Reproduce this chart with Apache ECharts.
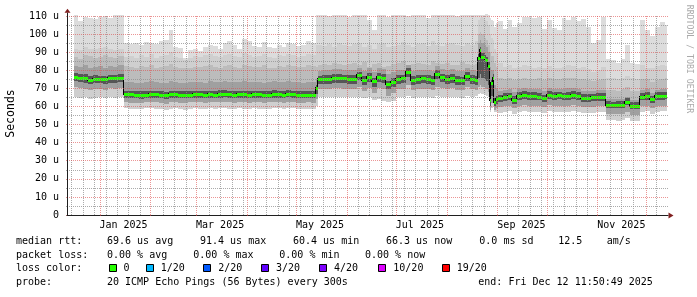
<!DOCTYPE html>
<html><head><meta charset="utf-8">
<script src="https://cdn.jsdelivr.net/npm/echarts@6/dist/echarts.min.js"></script>
<style>html,body{margin:0;padding:0;background:#fff}#c{width:697px;height:297px}</style>
</head><body><div id="c"></div>
<script>
// ---- DATA (days since 2024-12-12, values in microseconds) ----
const days = [4,7,10,13,16,19,22,25,28,31,
 35,38,41,44,47,50,53,56,59,62,65,68,71,74,77,80,83,86,89,92,95,98,101,104,107,110,113,116,119,122,125,128,131,134,137,140,143,146,149,
 152,153,156,159,162,165,168,171,174,177,180,183,186,189,192,195,198,201,204,207,210,213,216,219,222,225,228,231,234,237,240,243,246,249,
 251,252,253,254,255,256,257,258,259,260,261,262,
 263,266,269,272,275,278,281,284,287,290,293,296,299,302,305,308,311,314,317,320,323,326,
 329,332,335,338,341,344,347,
 350,353,356,359,362,365,
 366.5];
const medianRtt = [76.3,76.0,75.8,74.6,75.3,75.1,74.9,75.6,75.5,76.0,
 66.8,66.7,66.5,66.3,66.6,66.8,66.7,66.6,66.2,66.7,66.8,66.5,66.4,66.6,66.7,66.7,66.5,66.8,66.6,66.9,67.0,66.7,66.6,66.8,66.7,66.6,66.8,66.7,66.5,66.6,66.9,66.8,66.6,67.1,66.7,66.6,66.5,66.6,66.5,
 70.0,75.0,75.2,75.3,75.9,75.8,75.6,75.2,75.3,77.2,74.7,76.5,73.8,76.3,75.9,72.2,73.6,75.4,75.5,79.0,74.7,75.2,75.5,75.4,74.8,78.2,76.2,75.3,75.8,74.6,74.5,76.8,75.2,74.6,
 87.0,91.0,87.5,87.5,86.5,85.5,82.5,63.5,72.8,76.0,62.6,64.0,
 64.6,65.3,65.6,63.8,65.8,66.3,65.8,65.9,65.5,64.4,66.5,65.9,66.2,65.6,66.0,66.5,65.8,64.8,64.7,65.0,65.3,65.4,
 60.8,60.7,60.9,60.8,62.4,60.2,60.2,
 65.3,65.9,63.9,65.8,65.9,66.0,
 66.0];
const pingMax = [110.5,107,109.5,109,108.5,109.5,110,109,110.5,110.5,
 95,94.5,95,94,95.5,95,94.5,96,97,102.5,93,92.5,87,91,91.5,90.5,93,94,93.5,92,95,96,94,92,97.5,96,93.5,93,95.5,93,92.5,94,93,95,94.5,93.5,94,96,95,
 110.5,110.5,110.5,110,110.5,110.5,110.5,109.5,110.5,110.5,110.5,108,102,110.5,110.5,109.5,110.5,110.5,110.5,110,110.5,110.5,110.5,109,110.5,110.5,110.5,110.5,110.5,110,110.5,110.5,110.5,110.5,
 110.5,110.5,110.5,110.5,111,111,110.5,109,108,107,104,106,
 107,103,108,104,106,109.5,109.5,109,109.5,103,108,103.5,102.5,109,108,109.5,107,108.5,104,95,97,109.5,
 86,85.5,84,86.5,94,84,83.5,
 108,102,99,104,106.5,105,
 105];
const pingHi2 = [92,91,93,92,91.5,92.5,93,92,91,92,
 87.5,88,87,88.5,87.5,89,87,88,88.5,90,87.5,87,85.5,87,88,87.5,88.5,89,88,87.5,88.5,89,88,87.5,89.5,88.5,87.5,88,89,87.5,87,88.5,88,89,88.5,87.5,88,89,88.5,
 94,94,93.5,94.5,93,95,94,93.5,94.5,95,93,94,92,94.5,95,93,93.5,94,95.5,94,93,94.5,95,93.5,96,94,93.5,94.5,95,94,93.5,95,94,96,
 108,109,109.5,109,108,107,105,100,98,97,92,90,
 84,82,83,81.5,82,83,82.5,81,82,81,82.5,81.5,81,82,83,82.5,81.5,82,80.5,79,80,82,
 76,75.5,75,76,77,75.5,75,
 83,81.5,81,82.5,83,82.5,
 82.5];
const pingHi1 = [87.5,86.5,88.5,88,87,87.5,88.5,87.5,87,88,
 82.5,82,81.5,82.5,82,83,81.5,82,82.5,83.5,82,81.5,81,81.5,82,82,82.5,83,82,81.5,82.5,83,82,81.5,83,82.5,82,82,83,81.5,81.5,82.5,82,83,82.5,82,82,83,82.5,
 82,83,83.5,83,84,83.5,83,83.5,84,83,84.5,82,83.5,84,82,82.5,83.5,84,85,83,83.5,84,83.5,83,85,84,83.5,84,83,83,84.5,83.5,83,83.5,
 100,101,100,99.5,98,97,94,90,88,88,84,82,
 76,75,75.5,74.5,75,75.5,75,75,75.5,74.5,75.5,75,75,75.5,76,75.5,75,75,74.5,74,74.5,75,
 69,69,68.5,69.5,70.5,68.5,68.5,
 75,75,73.5,74.5,75,75.5,
 75.5];
const pingHi0 = [82.5,82,83,81.5,82,82.5,81.5,82.5,82,83,
 73.5,73.5,73,73,73.5,74,73.5,73,73,74,73.5,73,73,73.5,73.5,73.5,73,74,73.5,73.5,74,73.5,73.5,73.5,74,73.5,73.5,73.5,73,73.5,74,73.5,73.5,74,73.5,73.5,73,73.5,73.5,
 75,79.5,80,80,80.5,80.5,80,80,80,81.5,79.5,81,79,81,80.5,78,79,80,80,83,79.5,80,80,80,79.5,82.5,80.5,80,80.5,79.5,79.5,81,80,79.5,
 95,97,95,95,94,93,90,82,80,80,72,70,
 68.5,69,69.5,68,69.5,70,69.5,69.5,69.5,68.5,70,69.5,69.5,69.5,70,70,69.5,68.5,68.5,68.5,69,69,
 64,64,64,64,65.5,63.5,63.5,
 69,69.5,67.5,69,69.5,69.5,
 69.5];
const pingLo0 = [73.8,73.5,73.2,72.4,73,72.8,72.6,73.2,73.2,73.6,
 64.8,64.7,64.5,64.3,64.6,64.8,64.7,64.6,64.2,64.7,64.8,64.5,64.4,64.6,64.7,64.7,64.5,64.8,64.6,64.9,65,64.7,64.6,64.8,64.7,64.6,64.8,64.7,64.5,64.6,64.9,64.8,64.6,65.1,64.7,64.6,64.5,64.6,64.5,
 67,72.2,72.4,72.5,73.1,73,72.8,72.4,72.5,74.4,71.9,73.7,71,73.5,73.1,69.4,70.8,72.6,72.7,76.2,71.9,72.4,72.7,72.6,72,75.4,73.4,72.5,73,71.8,71.7,74,72.4,71.8,
 76,78,76,76,75,74,72,60,66,68,60,61.5,
 62.4,63.1,63.4,61.6,63.6,64.1,63.6,63.7,63.3,62.2,64.3,63.7,64,63.4,63.8,64.3,63.6,62.6,62.5,62.8,63.1,63.2,
 59.2,59.1,59.3,59.2,60.6,58.6,58.6,
 63.3,63.8,61.9,63.7,63.8,64,
 64];
const pingLo1 = [70.5,70,69.5,69,69.5,69.5,69,70,69.5,70,
 62.5,62,62,61.8,62.2,62.5,62.3,62,61.5,62.2,62.4,62,61.8,62.2,62.3,62.2,62,62.5,62.2,62.5,62.6,62.2,62,62.4,62.2,62,62.4,62.3,62,62.2,62.5,62.4,62.1,62.7,62.3,62.1,62,62.2,62,
 64,69.5,69.5,69.5,70,70,69.5,69.5,69.5,70.5,68.5,70,67.5,70,69.5,66,67.5,69.5,69.5,72,69,69.5,69.5,69.5,69,71,70,69.5,70,69,69,70.5,69.5,69,
 71,72,71,71,70,69.5,68,58,62,63,58,59,
 59.5,60,60.5,59,60.5,61,60.5,60.5,60,59.5,61,60.5,60.5,60,60.5,61,60.5,59.5,59.5,59.5,60,60,
 56,56,56,56,57,55.5,55.5,
 60,60.5,59,60.5,60.5,60.5,
 60.5];
const pingMin = [65,64.5,65.5,64,64.5,65,64.5,65,64.8,65.5,
 59,58.5,58.8,58.5,59,59.2,58.8,58.5,58,58.8,59,58.5,58.2,58.8,59,58.8,58.5,59.2,58.8,59,59.3,58.8,58.5,59,58.8,58.5,59,58.8,58.5,58.8,59.2,59,58.6,59.4,59,58.8,58.5,58.8,58.6,
 60,65,65.2,65,65.5,65.4,65,65,65.2,65.5,64.5,65,63.5,64,62.8,62.5,63,65,65.2,66,64.8,65,65.2,65,64.8,65.8,65.4,65,65.5,65,64.8,65.8,65.5,65.8,
 67,67.5,67,67,66.5,66,65,57,59,60,57,57,
 56.5,57,57.5,56,57,57.5,57,57,56.8,56.5,57.5,57,57,56.8,57.2,57.5,57,56.5,56.2,56.5,56.8,57,
 52.5,52.3,52,52.5,53.5,52,52,
 57,57.5,56,57,57.5,57.5,
 57.5];

const monthStartDays = [20,51,79,110,140,171,201,232,263,293,324,354];
const weekDays = [2.7,9.7,16.7,23.7,30.7,37.7,44.7,58.7,65.7,72.7,86.7,93.7,100.7,107.7,114.7,121.7,128.7,135.7,142.7,149.7,156.7,163.7,177.7,184.7,191.7,198.7,205.7,212.7,219.7,226.7,240.7,247.7,254.7,268.7,275.7,282.7,289.7,296.7,303.7,310.7,317.7,331.7,338.7,345.7,359.7];
const monthLabelDays = [34.5,93.5,154.5,215.5,277.5,338.5];
const monthLabels = ['Jan 2025','Mar 2025','May 2025','Jul 2025','Sep 2025','Nov 2025'];
const yTicks = [0,10,20,30,40,50,60,70,80,90,100,110];
const yTickLabels = ['0','10 u','20 u','30 u','40 u','50 u','60 u','70 u','80 u','90 u','100 u','110 u'];
const axisTitle = 'Seconds';
const watermark = 'RRDTOOL / TOBI OETIKER';
const rowTitles = ['median rtt:','packet loss:','loss color:','probe:'];
const medianStats = ['69.6 us avg','91.4 us max','60.4 us min','66.3 us now','0.0 ms sd','12.5','am/s'];
const lossStats = ['0.00 % avg','0.00 % max','0.00 % min','0.00 % now'];
const lossLabels = ['0','1/20','2/20','3/20','4/20','10/20','19/20'];
const lossColors = ['#26ff00','#00b8ff','#0059ff','#5e00ff','#7e00ff','#dd00ff','#ff0000'];
const probeText = '20 ICMP Echo Pings (56 Bytes) every 300s';
const endText = 'end: Fri Dec 12 11:50:49 2025';

[medianRtt,pingMax,pingHi2,pingHi1,pingHi0,pingLo0,pingLo1,pingMin].forEach((a,i)=>{
  if (a.length !== days.length) throw new Error('length mismatch ' + i + ': ' + a.length + ' vs ' + days.length);
});

// ---- LAYOUT / STYLE ----
const FONT = '"DejaVu Sans Mono", monospace';
const MGRID = 'rgba(222,79,79,0.6)';
const GRID = 'rgba(143,143,143,0.75)';
const DASH = [1,1];
const AXIS = '#1f1f1f';
const ARROW = '#801f1f';

const chart = echarts.init(document.getElementById('c'), null, {renderer:'canvas', width:697, height:297});

// each sample covers [days[i], days[i+1]) like rrdtool's step columns
function bandData(lo, hi){
  const out = [];
  for (let i = 0; i < days.length - 1; i++) out.push([days[i], days[i+1], lo[i], hi[i]]);
  return out;
}
function band(id, lo, hi, color, z){
  return {
    type:'custom', id:id, silent:true, animation:false, clip:false, z:z,
    encode:{x:[0,1], y:[2,3]},
    data:bandData(lo, hi),
    renderItem:(params, api)=>{
      const a = api.coord([api.value(0), api.value(3)]);
      const b = api.coord([api.value(1), api.value(2)]);
      const x0 = Math.round(a[0]), x1 = Math.round(b[0]);
      const y0 = Math.round(a[1]), y1 = Math.round(b[1]);
      return {type:'rect', shape:{x:x0, y:y0, width:Math.max(x1-x0,0), height:Math.max(y1-y0,1)}, style:{fill:color}};
    }
  };
}
// dark core just above the median (pixel styling of the median band)
const coreUp = 2.0;
const coreHi = medianRtt.map(v=>v+coreUp);

const medianCols = [];
for (let i = 0; i < days.length - 1; i++) medianCols.push([days[i], days[i+1], medianRtt[i], medianRtt[i+1]]);

const series = [
  band('b1', pingMin, pingMax, '#dcdcdc', 2),
  band('b2', pingMin, pingHi2, '#cfcfcf', 2),
  band('b3', pingLo1, pingHi1, '#bcbcbc', 2),
  band('b4', pingLo1, pingHi0, '#a0a0a0', 2),
  band('b5', pingLo0, coreHi, '#565656', 2),
  {type:'custom', id:'median', silent:true, animation:false, clip:false, z:3,
   encode:{x:[0,1], y:[2,3]}, data:medianCols,
   renderItem:(params, api)=>{
     const a = api.coord([api.value(0), api.value(2)]);
     const b = api.coord([api.value(1), api.value(3)]);
     const x0 = Math.round(a[0]), x1 = Math.round(b[0]);
     const yc = Math.round(a[1]), yn = Math.round(b[1]);
     const children = [
       {type:'rect', shape:{x:x1-1, y:Math.min(yc,yn)-1, width:1, height:Math.abs(yn-yc)+2}, style:{fill:'#000'}},
       {type:'rect', shape:{x:x0, y:yc-1, width:Math.max(x1-x0,1), height:3}, style:{fill:lossColors[0]}}
     ];
     return {type:'group', children:children};
   }}
];

const txt = (x, y, text, extra) => ({type:'text', x:x, y:y, silent:true, style:Object.assign({text:text, font:'10px ' + FONT, fill:'#000', align:'left', verticalAlign:'middle', textAlign:'left', textVerticalAlign:'middle'}, extra||{})});

const rowY = [241.5, 255.1, 268.7, 282.3];
const graphics = [];
rowTitles.forEach((t,i)=>graphics.push(txt(16, rowY[i], t)));
[107,200,293,386,479.3,558.3,606.7].forEach((x,i)=>graphics.push(txt(x, rowY[0], medianStats[i])));
[107,193.3,279.3,365].forEach((x,i)=>graphics.push(txt(x, rowY[1], lossStats[i])));
const boxX = [108.5,145.7,203.3,261,319,378.3,441.7];
boxX.forEach((x,i)=>{
  graphics.push({type:'rect', silent:true, shape:{x:Math.round(x)+0.5, y:264.5, width:7, height:7}, style:{fill:lossColors[i], stroke:'#000', lineWidth:1}});
  graphics.push(txt(x+15, rowY[2], lossLabels[i]));
});
graphics.push(txt(107, rowY[3], probeText));
graphics.push(txt(478.3, rowY[3], endText));
graphics.push({type:'text', x:11, y:113.5, rotation:Math.PI/2, silent:true, style:{text:axisTitle, font:'11.5px ' + FONT, fill:'#000', align:'center', verticalAlign:'middle', textAlign:'center', textVerticalAlign:'middle'}});
graphics.push({type:'text', x:689, y:59, rotation:-Math.PI/2, silent:true, style:{text:watermark, font:'8.2px ' + FONT, fill:'#aaaaaa', align:'center', verticalAlign:'middle', textAlign:'center', textVerticalAlign:'middle'}});
graphics.push({type:'line', silent:true, shape:{x1:67.5, y1:16, x2:67.5, y2:12.5}, style:{stroke:AXIS, lineWidth:1}});
graphics.push({type:'polygon', silent:true, shape:{points:[[64.5,12.7],[70.5,12.7],[67.5,8.7]]}, style:{fill:ARROW}});
graphics.push({type:'polygon', silent:true, shape:{points:[[668.5,212.5],[668.5,218.5],[673.5,215.5]]}, style:{fill:ARROW}});

const option = {
  backgroundColor:'#ffffff',
  animation:false,
  grid:{left:67, right:29, top:16, bottom:82, containLabel:false},
  xAxis:[
    {type:'value', min:0, max:367, z:10,
     axisLine:{show:true, onZero:false, lineStyle:{color:AXIS, width:1}},
     axisTick:{show:true, length:2, customValues:monthStartDays, lineStyle:{color:MGRID, type:DASH}},
     axisLabel:{show:true, customValues:monthLabelDays, margin:5, color:'#000', fontFamily:FONT, fontSize:10,
       formatter:v=>{ const i = monthLabelDays.findIndex(d=>Math.abs(d-v)<0.01); return i>=0 ? monthLabels[i] : ''; }},
     splitLine:{show:true, lineStyle:{color:MGRID, type:DASH, width:1}}},
    {type:'value', min:0, max:367, z:8, position:'bottom',
     axisLine:{show:false}, axisLabel:{show:false},
     axisTick:{show:true, length:2, customValues:weekDays, lineStyle:{color:GRID, type:DASH}},
     splitLine:{show:true, lineStyle:{color:GRID, type:DASH, width:1}}}
  ],
  yAxis:{type:'value', min:0, max:110, interval:10, z:9,
    axisLine:{show:true, onZero:false, lineStyle:{color:AXIS, width:1}},
    axisTick:{show:true, length:2, lineStyle:{color:MGRID, type:DASH}},
    minorTick:{show:true, splitNumber:2, length:2, lineStyle:{color:GRID, type:DASH}},
    axisLabel:{margin:8, color:'#000', fontFamily:FONT, fontSize:10,
      formatter:v=>{ const i = yTicks.indexOf(v); return i>=0 ? yTickLabels[i] : ''; }},
    splitLine:{show:true, lineStyle:{color:MGRID, type:DASH, width:1}},
    minorSplitLine:{show:true, lineStyle:{color:GRID, type:DASH, width:1}}},
  series:series,
  graphic:{elements:graphics}
};
chart.setOption(option);
</script>
</body></html>
